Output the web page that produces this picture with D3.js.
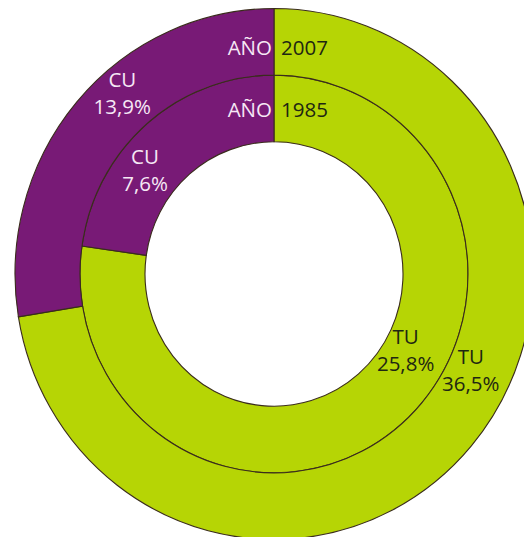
<!DOCTYPE html>
<html>
<head>
<meta charset="utf-8">
<script src="https://cdn.jsdelivr.net/npm/d3@7"></script>
<style>
  body { margin: 0; background: #fff; }
  svg { display: block; }
  text { font-family: "Open Sans", "Liberation Sans", sans-serif; font-size: 20.5px; font-weight: 500; }
</style>
</head>
<body>
<div id="chart"></div>
<script>
// data
const years = ['1985', '2007'];        // inner ring, outer ring
const categories = ['TU', 'CU'];
const tuValues = [25.8, 36.5];
const cuValues = [7.6, 13.9];
const yearLabel = 'AÑO';

var width = 524;
var height = 537;
var cx = 274, cy = 274;
var innerHole = 129, outerRadius = 259;

var colors = {
  TU: '#b6d505',
  CU: '#781a76'
};
var textColors = {
  TU: '#1e2712',
  CU: '#f6e8f5'
};

var svg = d3.select('#chart')
  .append('svg')
  .attr('width', width)
  .attr('height', height);

// the scan is slightly taller than wide
var g = svg.append('g')
  .attr('transform', 'translate(' + cx + ',' + cy + ') scale(1,1.025)');

var ring = d3.scaleBand()
  .domain(years)
  .range([innerHole, outerRadius])
  .paddingInner(0);

var pie = d3.pie()
  .sort(null)
  .value(function (d) { return d.value; });

years.forEach(function (year, i) {
  var rows = categories.map(function (c) {
    return { cat: c, value: c === 'TU' ? tuValues[i] : cuValues[i] };
  });
  var arc = d3.arc()
    .innerRadius(ring(year))
    .outerRadius(ring(year) + ring.bandwidth());

  g.selectAll('path.y' + year)
    .data(pie(rows))
    .enter()
    .append('path')
    .attr('class', 'y' + year)
    .attr('d', arc)
    .attr('fill', function (d) { return colors[d.data.cat]; })
    .attr('stroke', '#3a2c1c')
    .attr('stroke-width', 1.1);
});

// year labels on either side of the top divider
var labels = svg.append('g').attr('transform', 'translate(' + cx + ',' + cy + ')');
var yearBase = { '2007': -219, '1985': -157 };
years.forEach(function (year) {
  labels.append('text')
    .attr('x', -2)
    .attr('y', yearBase[year])
    .attr('text-anchor', 'end')
    .attr('fill', textColors.CU)
    .text(yearLabel);
  labels.append('text')
    .attr('x', 7)
    .attr('y', yearBase[year])
    .attr('text-anchor', 'start')
    .attr('fill', textColors.TU)
    .text(year);
});

// category labels: polar spot (degrees clockwise from top, radius)
var labelSpots = {
  '2007': { CU: [320, 236], TU: [116, 219] },
  '1985': { CU: [309, 166], TU: [120, 152] }
};
var fmt = function (v) { return String(v.toFixed(1)).replace('.', ',') + '%'; };

years.forEach(function (year, i) {
  categories.forEach(function (c) {
    var spot = labelSpots[year][c];
    var a = spot[0] * Math.PI / 180;
    var x = spot[1] * Math.sin(a);
    var y = -spot[1] * Math.cos(a);
    var v = c === 'TU' ? tuValues[i] : cuValues[i];
    var t = labels.append('text')
      .attr('text-anchor', 'middle')
      .attr('fill', textColors[c]);
    t.append('tspan').attr('x', x).attr('y', y - 6).text(c);
    t.append('tspan').attr('x', x).attr('y', y + 21).text(fmt(v));
  });
});
</script>
</body>
</html>
